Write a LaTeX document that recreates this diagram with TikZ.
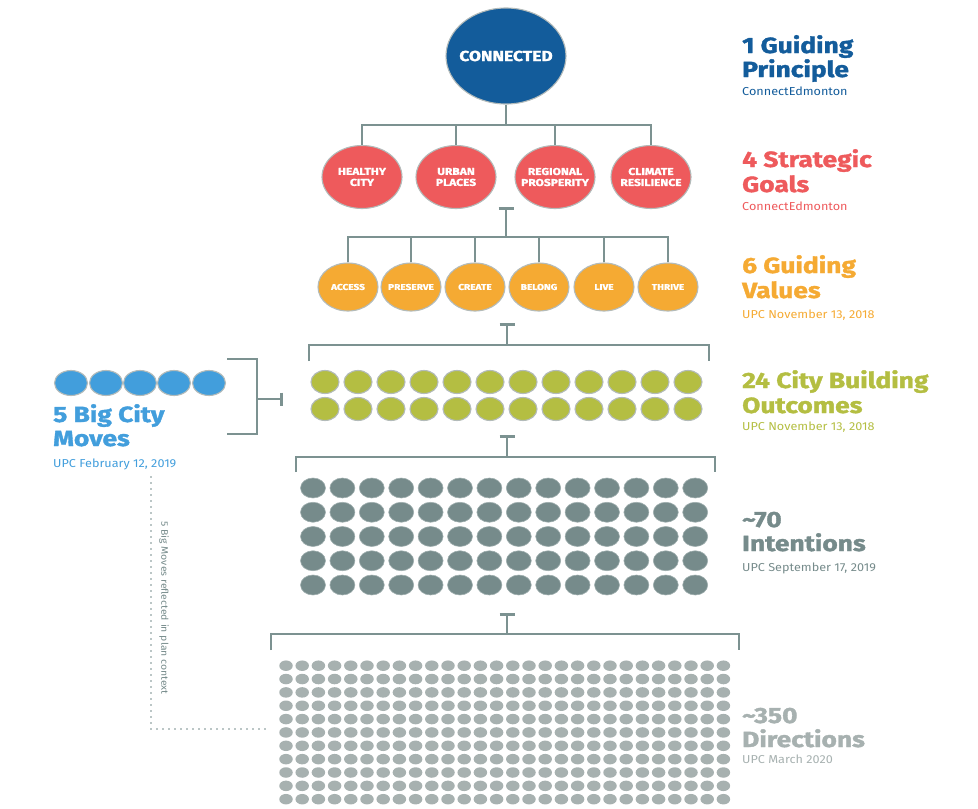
\documentclass[tikz,border=0pt]{standalone}
\usepackage{fontspec}
\setmainfont{Fira Sans}
\newfontfamily\widefont{Fira Sans}[FakeStretch=1.2, BoldFeatures={FakeBold=1.6}]
\newfontfamily\datefont{Fira Sans}[FakeStretch=1.1]
\usetikzlibrary{shapes.geometric,arrows.meta}

\definecolor{cblue}{HTML}{135C9B}
\definecolor{cred}{HTML}{EE5A5C}
\definecolor{corange}{HTML}{F5AA33}
\definecolor{cgreen}{HTML}{B4BE42}
\definecolor{cteal}{HTML}{768B8B}
\definecolor{cgray}{HTML}{A7B1B0}
\definecolor{csky}{HTML}{429EDC}
\definecolor{cline}{HTML}{7C9291}
\definecolor{crim}{HTML}{B3BBBA}

\tikzset{
	% negative inner sep keeps the ellipse at its minimum size around wide labels
	blob/.style={ellipse, draw=crim, line width=1.1pt, inner sep=-15pt, text=white, align=center},
	link/.style={draw=cline, line width=2.6pt},
	tee/.style={link, {Bar[width=15pt]}-},
	dotline/.style={draw=cteal, line width=1.8pt, line cap=round, dash pattern=on 0pt off 6pt},
	head/.style={anchor=base west, inner sep=0pt, font=\widefont\fontsize{22}{24}\selectfont\bfseries},
	sub/.style={anchor=base west, inner sep=0pt, font=\datefont\fontsize{11.5}{13}\selectfont},
}

\begin{document}
\begin{tikzpicture}[x=1pt, y=-1pt, line join=miter]
	\useasboundingbox (0,0) rectangle (978,809);

	% guiding principle
	\node[blob, fill=cblue, minimum width=120, minimum height=96, font=\widefont\fontsize{14.5}{16}\selectfont\bfseries] (con) at (506,56) {CONNECTED};

	% strategic goals
	\node[blob, fill=cred, minimum width=80, minimum height=63, font=\widefont\fontsize{10}{11}\selectfont\bfseries] (g1) at (362,177) {HEALTHY\\CITY};
	\node[blob, fill=cred, minimum width=80, minimum height=63, font=\widefont\fontsize{10}{11}\selectfont\bfseries] (g2) at (456,177) {URBAN\\PLACES};
	\node[blob, fill=cred, minimum width=80, minimum height=63, font=\widefont\fontsize{10}{11}\selectfont\bfseries] (g3) at (555,177) {REGIONAL\\PROSPERITY};
	\node[blob, fill=cred, minimum width=80, minimum height=63, font=\widefont\fontsize{10}{11}\selectfont\bfseries] (g4) at (651,177) {CLIMATE\\RESILIENCE};

	\coordinate (gbar) at (506,125);
	\draw[link] (con.south) -- (gbar);
	\draw[link] (g1.north) |- (g4.north |- gbar) -- (g4.north);
	\foreach \k in {2,3}
		\draw[link] (g\k.north) -- (g\k.north |- gbar);

	% guiding values
	\foreach \k/\xx/\txt in {1/348/ACCESS, 2/411/PRESERVE, 3/475/CREATE, 4/539/BELONG, 5/604/LIVE, 6/668/THRIVE}
		\node[blob, fill=corange, minimum width=60, minimum height=48, font=\widefont\fontsize{8.4}{10}\selectfont\bfseries] (v\k) at (\xx,287) {\txt};

	\coordinate (vtee) at (506,207);
	\coordinate (vbar) at (506,237);
	\draw[tee] (vtee) -- (vbar);
	\draw[link] (v1.north) |- (v6.north |- vbar) -- (v6.north);
	\foreach \k in {2,...,5}
		\draw[link] (v\k.north) -- (v\k.north |- vbar);

	% city building outcomes, 12 x 2
	\foreach \i in {0,...,11}
		\foreach \j in {0,1}
			\node[blob, fill=cgreen, minimum width=28, minimum height=23] (o-\i-\j) at ({325+33*\i},{382+27*\j}) {};

	\coordinate (otee) at (507,323);
	\coordinate (obar) at (507,345);
	\coordinate (ol) at (309,361);
	\coordinate (or) at (709,361);
	\draw[tee] (otee) -- (obar);
	\draw[link] (ol) |- (obar) -| (or);

	% intentions, 14 x 5
	\foreach \i in {0,...,13}
		\foreach \j in {0,...,4}
			\node[blob, fill=cteal, draw=cteal!70!white, line width=0.6pt, minimum width=25, minimum height=20] (n-\i-\j) at ({313+29.4*\i},{488+24.25*\j}) {};

	\coordinate (itee) at (507,435);
	\coordinate (ibar) at (507,457);
	\coordinate (il) at (296,472);
	\coordinate (ir) at (715,472);
	\draw[tee] (itee) -- (ibar);
	\draw[link] (il) |- (ibar) -| (ir);

	% directions, 28 x 11
	\foreach \i in {0,...,27}
		\foreach \j in {0,...,10}
			\node[ellipse, fill=cgray, inner sep=0pt, minimum width=13.5, minimum height=10.5] (d-\i-\j) at ({286+16.2*\i},{665.7+13.35*\j}) {};

	\coordinate (dtee) at (507,613);
	\coordinate (dbar) at (507,634);
	\coordinate (dl) at (271,650);
	\coordinate (dr) at (739,650);
	\draw[tee] (dtee) -- (dbar);
	\draw[link] (dl) |- (dbar) -| (dr);

	% big city moves
	\foreach \k/\xx in {1/71, 2/106, 3/140, 4/174, 5/209}
		\node[blob, fill=csky, minimum width=33, minimum height=25] (m\k) at (\xx,383) {};

	\coordinate (mtop) at (227,359);
	\coordinate (mbot) at (227,434);
	\coordinate (mtee) at (283,399);
	\draw[link] (mtop) -- (257,359) -- (257,434) -- (mbot);
	\draw[link, {Bar[width=13pt]}-] (mtee) -- (257,399);

	% dotted link down to the directions
	\coordinate (ptop) at (151,477);
	\coordinate (pend) at (270,729);
	\draw[dotline] (ptop) |- (pend);
	\node[rotate=-90, text=cteal, font=\datefont\fontsize{9.5}{10}\selectfont] (note) at (164,608) {5 Big Moves reflected in plan context};

	% tier titles
	\node[head, text=cblue] (t1a) at (742,53) {1 Guiding};
	\node[head, text=cblue] (t1b) at (742,77) {Principle};
	\node[sub, text=cblue] (t1c) at (742,95) {ConnectEdmonton};

	\node[head, text=cred] (t2a) at (742,167) {4 Strategic};
	\node[head, text=cred] (t2b) at (742,192) {Goals};
	\node[sub, text=cred] (t2c) at (742,210) {ConnectEdmonton};

	\node[head, text=corange] (t3a) at (742,273) {6 Guiding};
	\node[head, text=corange] (t3b) at (742,298) {Values};
	\node[sub, text=corange] (t3c) at (742,318) {UPC November 13, 2018};

	\node[head, text=cgreen] (t4a) at (742,388) {24 City Building};
	\node[head, text=cgreen] (t4b) at (742,413) {Outcomes};
	\node[sub, text=cgreen] (t4c) at (742,430) {UPC November 13, 2018};

	\node[head, text=cteal] (t5a) at (742,527) {\textasciitilde70};
	\node[head, text=cteal] (t5b) at (742,551) {Intentions};
	\node[sub, text=cteal] (t5c) at (742,571) {UPC September 17, 2019};

	\node[head, text=cgray] (t6a) at (742,723) {\textasciitilde350};
	\node[head, text=cgray] (t6b) at (742,747) {Directions};
	\node[sub, text=cgray] (t6c) at (742,763) {UPC March 2020};

	\node[head, text=csky] (m-a) at (53,422) {5 Big City};
	\node[head, text=csky] (m-b) at (53,446) {Moves};
	\node[sub, text=csky] (m-c) at (53,467) {UPC February 12, 2019};
\end{tikzpicture}
\end{document}
